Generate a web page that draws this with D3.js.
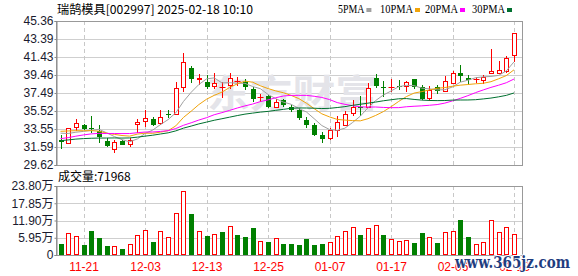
<!DOCTYPE html>
<html>
<head>
<meta charset="utf-8">
<script src="https://cdn.jsdelivr.net/npm/d3@7"></script>
<style>
html, body { margin: 0; padding: 0; background: #fff; }
svg { display: block; }
</style>
</head>
<body>
<div id="chart"></div>
<script>
// 交易日
const dates = ["11-18","11-19","11-20","11-21","11-22","11-25","11-26","11-27","11-28","11-29",
  "12-02","12-03","12-04","12-05","12-06","12-09","12-10","12-11","12-12","12-13",
  "12-16","12-17","12-18","12-19","12-20","12-23","12-24","12-25","12-26","12-27",
  "12-30","12-31","01-02","01-03","01-06","01-07","01-08","01-09","01-10","01-13",
  "01-14","01-15","01-16","01-17","01-20","01-21","01-22","01-23","01-24","01-27",
  "02-05","02-06","02-07","02-10","02-11","02-12","02-13","02-14","02-17","02-18"];

const open = [32.30,31.99,33.74,33.99,33.63,33.37,32.28,31.33,32.28,31.92,
  34.07,34.47,34.61,34.18,35.16,35.19,38.18,40.26,39.05,38.73,
  38.26,38.16,38.36,38.78,38.73,37.89,37.00,37.16,35.92,36.73,
  36.00,35.63,34.54,33.99,32.90,32.54,33.45,33.99,35.27,35.92,
  36.00,39.09,38.20,38.18,38.28,38.26,38.98,38.11,36.91,38.11,
  37.71,38.55,39.64,39.09,39.04,38.91,39.64,39.64,39.89,41.61];
const high = [32.90,33.68,34.61,34.10,34.98,33.99,32.54,32.35,32.35,32.54,
  34.61,35.63,34.83,35.63,35.63,38.73,41.83,40.44,39.57,39.42,
  39.64,38.73,39.64,39.27,38.98,38.11,37.38,37.27,36.80,36.80,
  36.18,35.81,34.90,34.18,33.26,33.63,34.98,35.52,36.73,37.16,
  38.62,39.57,38.80,38.98,38.91,38.80,38.98,38.33,38.26,38.33,
  39.35,39.89,40.55,39.46,39.28,39.46,42.26,40.99,41.53,44.01];
const low = [31.40,31.95,33.37,33.45,33.08,31.99,31.62,30.97,31.78,31.62,
  33.15,33.74,33.88,33.99,34.72,35.09,37.64,38.55,38.36,37.89,
  37.93,36.91,37.89,38.26,37.82,36.54,36.54,35.81,35.81,35.92,
  35.45,34.54,33.63,32.79,32.06,32.35,32.64,33.88,34.98,34.98,
  35.81,38.00,37.09,37.64,37.82,37.64,37.93,36.73,36.65,37.38,
  37.60,38.47,38.73,38.36,38.62,38.47,39.64,39.57,39.71,40.91];
const close = [32.10,33.63,34.18,33.56,33.52,32.72,31.70,32.17,31.84,32.35,
  34.28,34.72,33.99,34.83,35.10,38.00,40.91,38.98,39.09,38.18,
  38.55,38.18,39.09,38.80,38.11,36.80,37.02,35.92,36.54,36.18,
  35.63,34.72,33.99,32.90,32.43,33.45,34.28,35.16,36.00,35.89,
  38.00,38.26,38.18,38.20,38.26,38.73,38.11,36.80,37.82,37.71,
  38.80,39.64,39.38,38.91,39.06,39.28,39.86,39.97,41.35,44.01];
// 图中看不到的前29日收盘价, 按起点处均线位置估计
const earlierClose = [31.2,31.5,31.9,32.4,32.1,31.6,31.8,32.3,31.9,31.7,
  31.4,31.0,30.8,31.3,31.6,31.9,32.2,32.0,32.3,32.5,
  33.2,33.9,33.6,33.4,33.4,33.8,33.5,33.1,33.0];
const volume = [38000,76000,66000,34000,83000,59000,31000,31000,21000,38000,
  69000,86000,45000,83000,62000,145000,221000,141000,83000,66000,
  72000,79000,100000,69000,62000,93000,48000,45000,59000,38000,
  38000,34000,55000,34000,38000,45000,66000,83000,97000,69000,
  93000,103000,69000,55000,48000,52000,41000,76000,62000,41000,
  79000,83000,121000,62000,38000,45000,121000,79000,97000,71968];

const priceTicks = [29.62,31.59,33.55,35.52,37.49,39.46,41.43,43.39,45.36];
const volTicks = [0,59500,119000,178500,238000];
const labelIdx = [3,11,19,27,35,43,51,59];
const maPeriods = [5,10,20,30];
const maColors = ["#a0a0a0","#f0a30a","#ff00ff","#00702f"];

const W = 578, H = 276;
const L = 56, R = 522, pTop = 21, pBot = 165, vTop = 186, vBot = 255;
const UP = "#ff0000", DOWN = "#008000";

const svg = d3.select("#chart").append("svg").attr("width", W).attr("height", H)
  .style("font-family", "'Liberation Sans', Arial, sans-serif");

const x = d3.scaleLinear().domain([0, dates.length - 1]).range([60.5, 514]);
const y = d3.scaleLinear().domain([29.62, 45.36]).range([pBot, pTop]);
const yv = d3.scaleLinear().domain([0, 238000]).range([vBot, vTop]);
const px = i => Math.round(x(i)) + 0.5;

// 网格
function grid(ticks, scale, top, bot) {
  svg.append("g").selectAll("line").data(ticks.slice(1, -1)).enter().append("line")
    .attr("x1", L).attr("x2", R)
    .attr("y1", d => Math.round(scale(d)) + 0.5).attr("y2", d => Math.round(scale(d)) + 0.5)
    .attr("stroke", "#cfcfcf");
  svg.append("g").selectAll("line").data(labelIdx).enter().append("line")
    .attr("x1", d => px(d)).attr("x2", d => px(d))
    .attr("y1", top).attr("y2", bot)
    .attr("stroke", "#c8c8c8").attr("stroke-dasharray", "4,3");
  svg.append("rect").attr("x", L + 0.5).attr("y", top + 0.5)
    .attr("width", R - L).attr("height", bot - top)
    .attr("fill", "none").attr("stroke", "#999");
}
grid(priceTicks, y, pTop, pBot);
grid(volTicks, yv, vTop, vBot);

// 水印
svg.append("text").attr("x", 207).attr("y", 107)
  .attr("textLength", 171).attr("lengthAdjust", "spacingAndGlyphs")
  .style("font-family", "'Noto Sans CJK SC'").style("font-weight", "bold")
  .style("font-size", "38px").attr("fill", "#e4e4e9")
  .text("东方财富");

// K线
const candles = svg.append("g");
dates.forEach((d, i) => {
  const o = open[i], c = close[i], up = c >= o;
  const cx = px(i);
  const yt = Math.round(y(Math.max(o, c))), yb = Math.round(y(Math.min(o, c)));
  const yh = Math.round(y(high[i])), yl = Math.round(y(low[i]));
  if (up) {
    if (yh < yt) candles.append("line").attr("x1", cx).attr("x2", cx).attr("y1", yh).attr("y2", yt).attr("stroke", UP);
    if (yl > yb) candles.append("line").attr("x1", cx).attr("x2", cx).attr("y1", yb).attr("y2", yl).attr("stroke", UP);
    if (yb - yt < 1) {
      candles.append("line").attr("x1", cx - 3).attr("x2", cx + 3).attr("y1", yt + 0.5).attr("y2", yt + 0.5).attr("stroke", UP);
    } else {
      candles.append("rect").attr("x", cx - 2).attr("y", yt + 0.5)
        .attr("width", 4).attr("height", yb - yt)
        .attr("fill", "#fff").attr("stroke", UP);
    }
  } else {
    candles.append("line").attr("x1", cx).attr("x2", cx).attr("y1", yh).attr("y2", yl).attr("stroke", DOWN);
    candles.append("rect").attr("x", cx - 2.5).attr("y", yt)
      .attr("width", 5).attr("height", Math.max(1, yb - yt)).attr("fill", DOWN);
  }
});

// 均线
const allClose = earlierClose.concat(close);
const off = earlierClose.length;
maPeriods.forEach((n, k) => {
  const ma = close.map((c, i) => d3.mean(allClose.slice(off + i - n + 1, off + i + 1)));
  svg.append("path").datum(ma)
    .attr("d", d3.line().x((d, i) => x(i)).y(d => y(d)))
    .attr("fill", "none").attr("stroke", maColors[k]).attr("stroke-width", 1);
});

// 成交量
const vols = svg.append("g");
volume.forEach((v, i) => {
  const up = i === 0 ? close[i] >= open[i] : close[i] >= close[i - 1];
  const cx = px(i);
  const top = Math.round(yv(v));
  if (up) {
    vols.append("rect").attr("x", cx - 2).attr("y", top + 0.5)
      .attr("width", 4).attr("height", vBot - top - 1)
      .attr("fill", "#fff").attr("stroke", UP);
  } else {
    vols.append("rect").attr("x", cx - 2.5).attr("y", top)
      .attr("width", 5).attr("height", vBot - top).attr("fill", DOWN);
  }
});

// 坐标轴
const axP = svg.append("g").attr("transform", `translate(${L + 0.5},0)`)
  .call(d3.axisLeft(y).tickValues(priceTicks).tickSize(2).tickPadding(1).tickFormat(d3.format(".2f")));
const axV = svg.append("g").attr("transform", `translate(${L + 0.5},0)`)
  .call(d3.axisLeft(yv).tickValues(volTicks).tickSize(2).tickPadding(1)
    .tickFormat(d => d === 0 ? "0" : (d / 10000).toFixed(2) + "万"));
[axP, axV].forEach(a => {
  a.select(".domain").attr("stroke", "#888");
  a.selectAll(".tick line").attr("stroke", "#888");
  a.selectAll("text").attr("fill", "#1a1a2e").style("font-size", "12px")
    .style("font-family", "'Liberation Sans', 'Noto Sans CJK SC', sans-serif");
});

const axX = svg.append("g").attr("transform", `translate(0,${vBot})`)
  .call(d3.axisBottom(x).tickValues(labelIdx).tickSize(0).tickPadding(7).tickFormat(i => dates[i]));
axX.select(".domain").remove();
axX.selectAll("text").attr("fill", "#ff0000").style("font-size", "12px")
  .style("font-family", "'Liberation Sans', sans-serif");

// 标题与图例
svg.append("text").attr("x", 57).attr("y", 14)
  .attr("textLength", 196).attr("lengthAdjust", "spacingAndGlyphs")
  .style("font-family", "'Noto Sans CJK SC'").style("font-size", "12px").attr("fill", "#000")
  .text("瑞鹄模具[002997] 2025-02-18 10:10");

const legendX = [338, 380, 425, 472];
maPeriods.forEach((n, k) => {
  const label = n + "PMA";
  const w = label.length * 6.6;
  svg.append("text").attr("x", legendX[k]).attr("y", 13)
    .attr("textLength", w).attr("lengthAdjust", "spacingAndGlyphs")
    .style("font-family", "'Liberation Serif', serif").style("font-size", "12px").attr("fill", "#000")
    .text(label);
  svg.append("rect").attr("x", legendX[k] + w + 2).attr("y", 8)
    .attr("width", 5).attr("height", 4).attr("fill", maColors[k]);
});

svg.append("text").attr("x", 58).attr("y", 181)
  .style("font-family", "'Noto Sans CJK SC'").style("font-size", "12px").attr("fill", "#000")
  .text("成交量:" + volume[volume.length - 1]);

// 网址水印
svg.append("text").attr("x", 455).attr("y", 268)
  .attr("textLength", 115).attr("lengthAdjust", "spacingAndGlyphs")
  .style("font-family", "'DejaVu Serif', serif").style("font-weight", "bold")
  .style("font-size", "17px").attr("fill", "#1f3d80")
  .attr("stroke", "#fff").attr("stroke-width", 2).attr("paint-order", "stroke")
  .text("www.365jz.com");
</script>
</body>
</html>
